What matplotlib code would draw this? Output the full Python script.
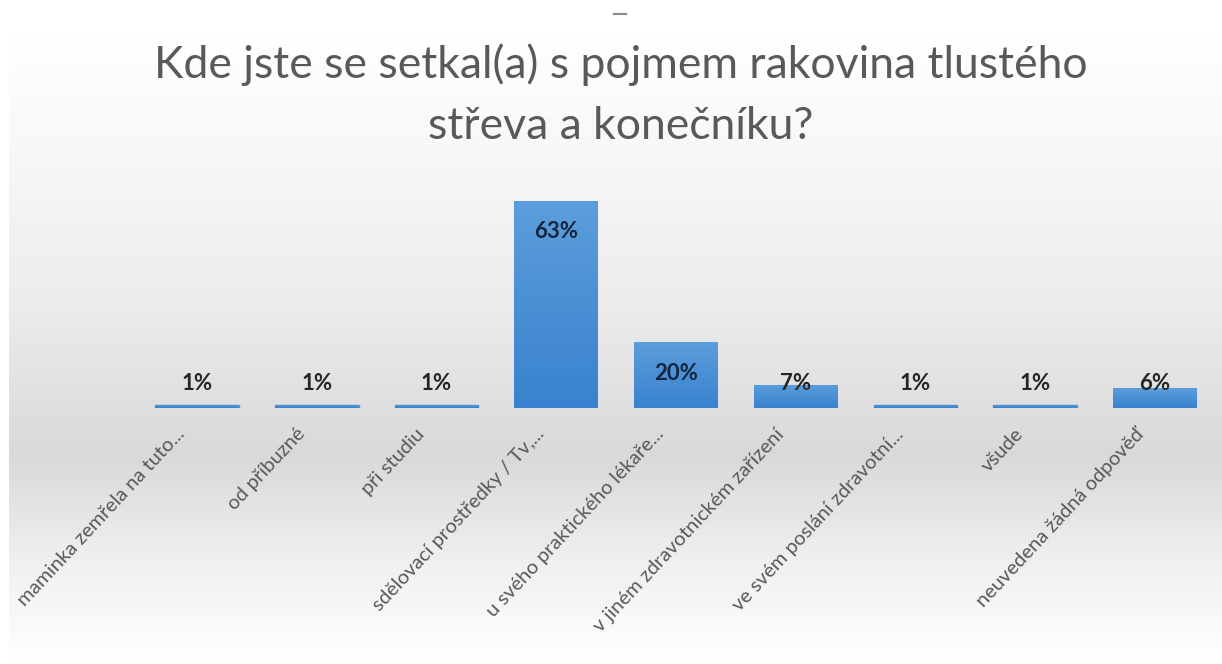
import numpy as np
import matplotlib
matplotlib.use('Agg')
import matplotlib.pyplot as plt
from matplotlib.colors import LinearSegmentedColormap
from matplotlib.lines import Line2D
from matplotlib.transforms import ScaledTranslation

plt.rcParams['font.family'] = ['Lato', 'DejaVu Sans']

kategorie = ['maminka zemřela na tuto...', 'od příbuzné', 'při studiu',
             'sdělovací prostředky / Tv,...', 'u svého praktického lékaře...',
             'v jiném zdravotnickém zařízení', 've svém poslání zdravotní...',
             'všude', 'neuvedena žádná odpověď']
procenta = [1, 1, 1, 63, 20, 7, 1, 1, 6]

titulek = 'Kde jste se setkal(a) s pojmem rakovina tlustého\nstřeva a konečníku?'

W, H = 1222, 664
fig = plt.figure(figsize=(W / 100, H / 100), dpi=100)
fig.patch.set_facecolor('white')

# pozadi: svisly prechod bila -> seda (u zakladny grafu) -> bila
bg = fig.add_axes([9 / W, 0, 1 - 9 / W, 1 - 35 / H], zorder=0)
body = [(0.0, '#ffffff'), (0.20, '#f7f7f7'), (0.43, '#ececec'),
        (0.67, '#d9d9d9'), (0.84, '#f0f0f0'), (1.0, '#ffffff')]
cmap_bg = LinearSegmentedColormap.from_list('pozadi', body)
grad = np.linspace(0, 1, 400).reshape(-1, 1)
bg.imshow(grad, cmap=cmap_bg, aspect='auto', extent=(0, 1, 1, 0))
bg.axis('off')

# osa s grafem
px_na_proc = 3.29
ax = fig.add_axes([137 / W, (H - 408) / H, 1078 / W, 70 * px_na_proc / H], zorder=1)
ax.patch.set_alpha(0)

x = np.arange(len(kategorie))
sloupce = ax.bar(x, procenta, width=0.7, color='#4a8fd4', zorder=2)

# sloupce svetlejsi nahore, tmavsi dole
cmap_bar = LinearSegmentedColormap.from_list('sloupec', ['#3a82cf', '#5c9edb'])
for s in sloupce:
    x0, y0 = s.get_x(), s.get_y()
    w, h = s.get_width(), s.get_height()
    im = ax.imshow(np.linspace(0, 1, 100).reshape(-1, 1), cmap=cmap_bar, aspect='auto',
                   extent=(x0, x0 + w, y0, y0 + h), origin='lower', zorder=3)
    im.set_clip_path(s)
    if h < 3:
        s.set_color('#6e8fb8')

for xi, v in zip(x, procenta):
    if v >= 15:
        ax.text(xi, v - 31 / px_na_proc, f'{v}%', ha='center', va='center',
                fontsize=16, fontweight='bold', color='#142540', zorder=4)
    else:
        ax.text(xi, 24 / px_na_proc, f'{v}%', ha='center', va='center',
                fontsize=16, fontweight='bold', color='#262626', zorder=4)

ax.set_xlim(-0.5, len(kategorie) - 0.5)
ax.set_ylim(0, 70)
ax.set_yticks([])
ax.set_xticks(x)
ax.set_xticklabels(kategorie, rotation=47, ha='right', rotation_mode='anchor',
                   fontsize=14.5, color='#595959')
ax.tick_params(axis='x', length=0, pad=6)
posun = ScaledTranslation(-0.21, -0.09, fig.dpi_scale_trans)
for lbl in ax.get_xticklabels():
    lbl.set_transform(lbl.get_transform() + posun)
for sp in ax.spines.values():
    sp.set_visible(False)

fig.text(621 / W, 1 - 95 / H, titulek, ha='center', va='center', fontsize=32,
         color='#595959', linespacing=1.6)

fig.add_artist(Line2D([614 / W, 626 / W], [1 - 14 / H, 1 - 14 / H], color='#8a8a8a', lw=1.5))

fig.savefig('out.png', dpi=100)
